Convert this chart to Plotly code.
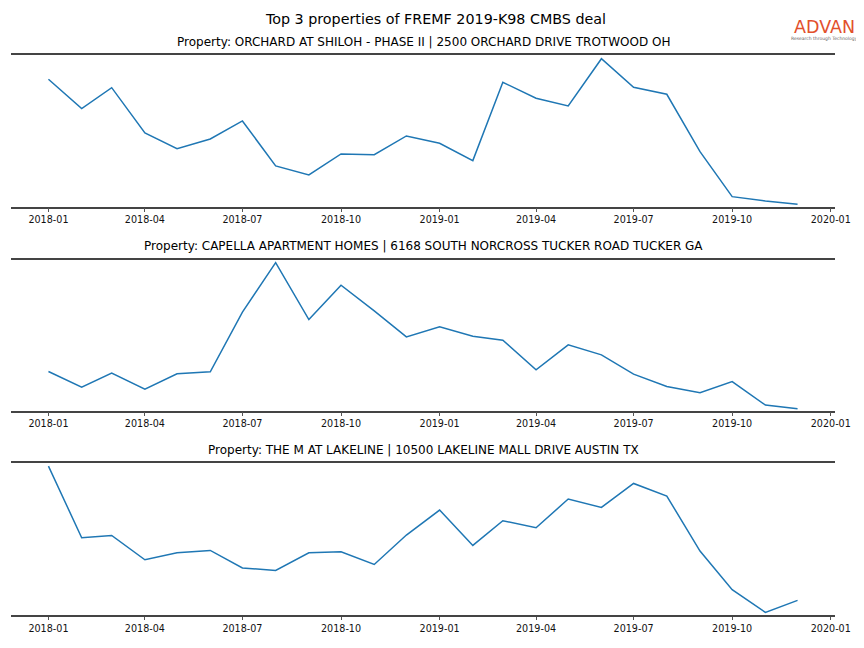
import plotly.graph_objects as go
from plotly.subplots import make_subplots
import pandas as pd

months = pd.date_range("2018-01-01", "2019-12-01", freq="MS")

titles = [
    "Property: ORCHARD AT SHILOH - PHASE II | 2500 ORCHARD DRIVE TROTWOOD OH",
    "Property: CAPELLA APARTMENT HOMES | 6168 SOUTH NORCROSS TUCKER ROAD TUCKER GA",
    "Property: THE M AT LAKELINE | 10500 LAKELINE MALL DRIVE AUSTIN TX",
]

orchard_visits = [127.4, 98.0, 119.0, 73.7, 58.0, 67.7, 85.7, 40.7, 31.7, 52.7, 52.0, 70.7,
                  63.4, 46.0, 124.4, 108.4, 100.7, 148.0, 119.4, 112.4, 55.0, 10.0, 5.7, 2.4]
capella_visits = [39.0, 23.4, 37.4, 21.4, 36.7, 38.7, 98.4, 148.0, 91.0, 125.4, 99.7, 73.7,
                  83.7, 74.4, 70.4, 40.7, 65.7, 55.7, 36.4, 24.0, 17.7, 29.0, 5.4, 1.7]
lakeline_visits = [149.0, 77.3, 79.6, 55.3, 62.3, 64.6, 47.0, 44.6, 62.3, 63.3, 50.6, 80.0,
                   105.0, 69.6, 94.3, 87.3, 116.0, 107.6, 131.6, 119.0, 64.0, 25.3, 2.6, 14.6]

series = [orchard_visits, capella_visits, lakeline_visits]
panel_tops = [151.7, 150.7, 152.3]

# page is offset by the browser's 8px body margin
OFF = 8
W, H = 864 - OFF, 648 - OFF
ML, MT = 11 - OFF, 55 - OFF
MR, MB = 29, 32.7
PH = H - MT - MB  # plot height in px
PW = W - ML - MR


def py(y_page):
    return (H - MB - (y_page - OFF)) / PH


def px(x_page):
    return (x_page - OFF - ML) / PW


fig = make_subplots(rows=3, cols=1, subplot_titles=titles, vertical_spacing=0.1)

for i, vals in enumerate(series):
    fig.add_trace(go.Scatter(x=months, y=vals, mode="lines",
                             line=dict(color="#1f77b4", width=1.5),
                             showlegend=False), row=i + 1, col=1)

panel_px = [(55, 206.7), (260, 410.7), (463, 615.3)]
for i in range(3):
    ax = "" if i == 0 else str(i + 1)
    top, bot = panel_px[i]
    fig.layout["xaxis" + ax].update(
        domain=[0, 1],
        range=["2017-11-27 01:12", "2020-01-04 22:48"],
        tick0="2018-01-01", dtick="M3", tickformat="%Y-%m",
        showgrid=False, zeroline=False,
        showline=True, mirror=True, linecolor="#444444", linewidth=1.6,
        ticks="outside", ticklen=3.5, tickwidth=1, tickcolor="#555555",
        tickfont=dict(family="DejaVu Sans", size=9.6, color="#111111"),
    )
    fig.layout["yaxis" + ax].update(
        domain=[max(0, py(bot)), min(1, py(top))], range=[0, panel_tops[i]],
        showgrid=False, zeroline=False, showline=False,
        showticklabels=False, ticks="",
    )

title_y_px = [42, 246, 450]
for i, ann in enumerate(fig.layout.annotations):
    ann.update(font=dict(family="DejaVu Sans", size=12, color="#000000"),
               y=py(title_y_px[i]), yanchor="middle", yref="paper")

fig.add_annotation(text="ADVAN", xref="paper", yref="paper",
                   x=px(824.5), y=py(26.5),
                   xanchor="center", yanchor="middle", showarrow=False,
                   font=dict(family="DejaVu Sans", size=17.5, color="#E2502C"))
fig.add_annotation(text="Research through Technology", xref="paper", yref="paper",
                   x=px(824.5), y=py(38.8),
                   xanchor="center", yanchor="middle", showarrow=False,
                   font=dict(family="DejaVu Sans", size=4.5, color="#666666"))

fig.update_layout(
    width=W, height=H,
    margin=dict(l=ML, r=MR, t=MT, b=MB),
    paper_bgcolor="white", plot_bgcolor="white",
    title=dict(text="Top 3 properties of FREMF 2019-K98 CMBS deal",
               x=0.5, xanchor="center", y=1 - (19 - OFF) / H, yanchor="middle",
               font=dict(family="DejaVu Sans", size=14.3, color="#000000")),
)

fig.write_html("out.html")
